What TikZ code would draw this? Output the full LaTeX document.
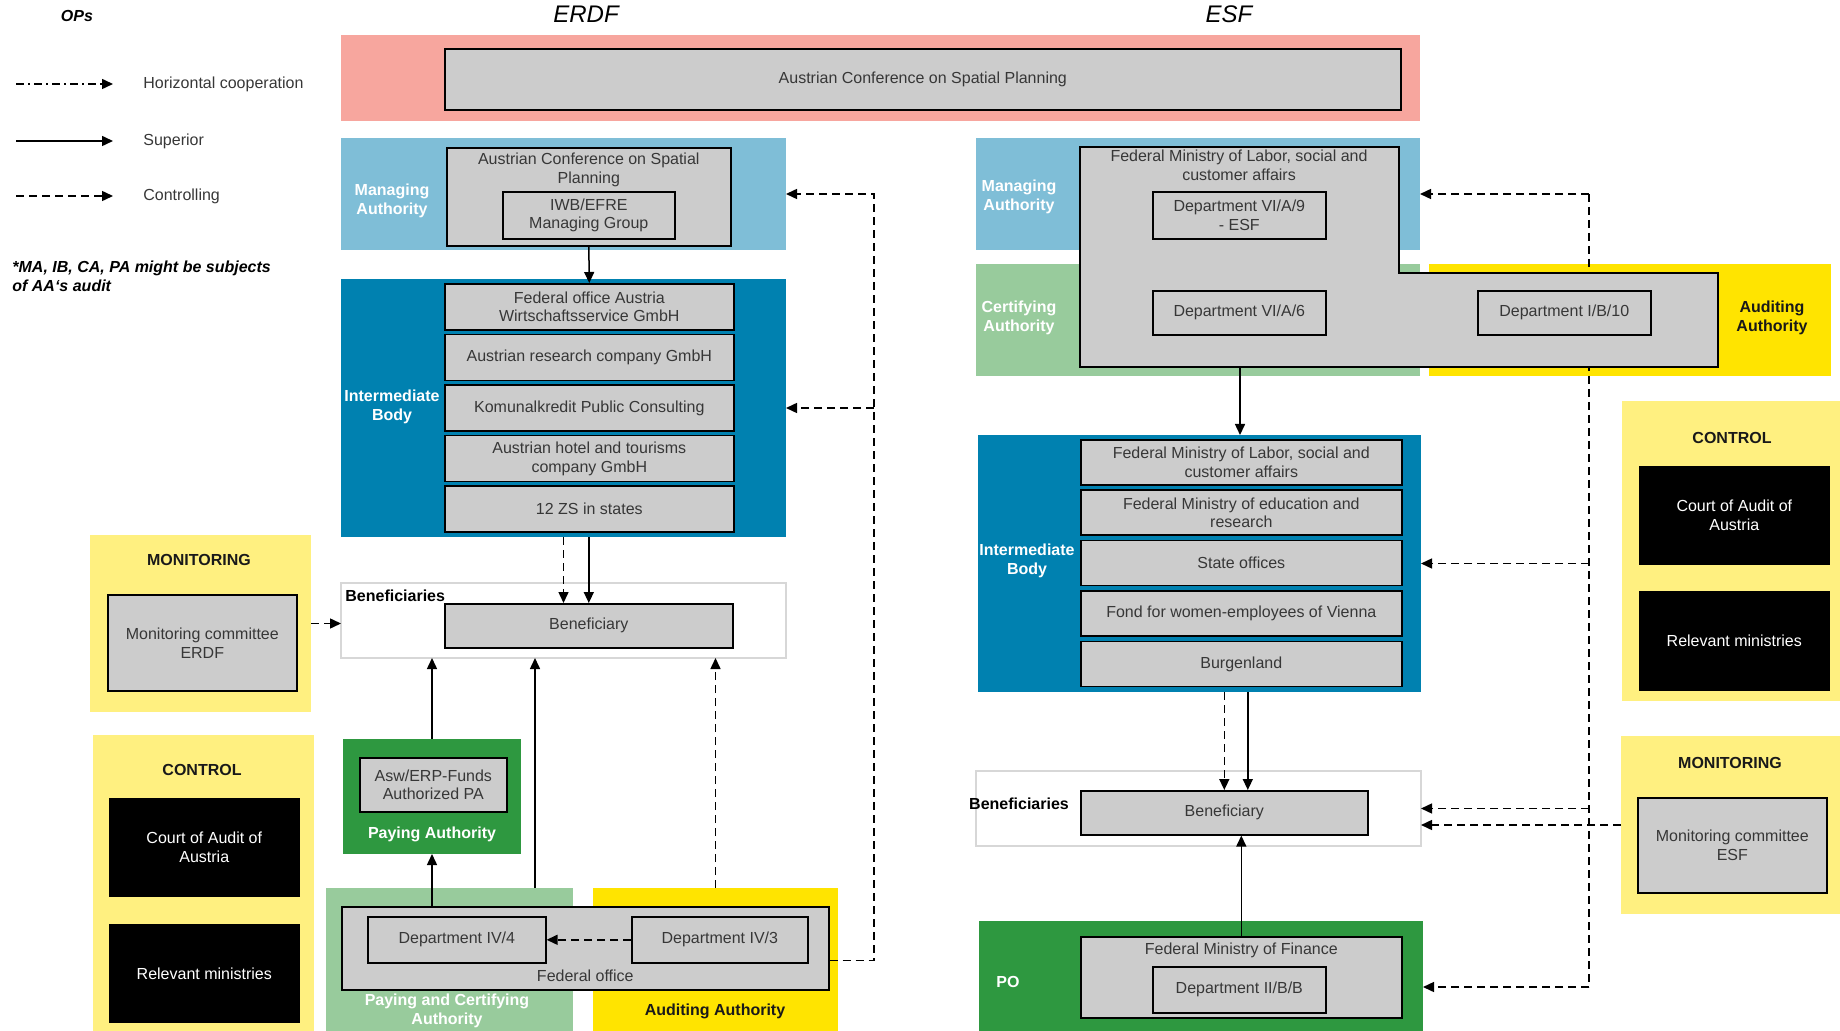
\documentclass[tikz,border=0pt]{standalone}
\usepackage{fontspec}
\setmainfont{Liberation Sans}
\usepackage{xcolor}
\usepackage{tikz}
\usetikzlibrary{arrows.meta,positioning}

\definecolor{spatialpink}{RGB}{247,166,158}
\definecolor{mablue}{RGB}{127,190,215}
\definecolor{ibblue}{RGB}{0,129,176}
\definecolor{pagreen}{RGB}{46,152,64}
\definecolor{pcgreen}{RGB}{152,203,156}
\definecolor{audyellow}{RGB}{255,228,0}
\definecolor{softyellow}{RGB}{255,240,128}
\definecolor{boxgray}{RGB}{204,204,204}
\definecolor{bengray}{RGB}{215,215,215}
\definecolor{txtgray}{RGB}{55,55,55}

\newcommand{\boxfont}{\fontsize{8}{9.4}\selectfont}

\begin{document}
\begin{tikzpicture}[
  x=0.5pt, y=-0.5pt,
  band/.style={rectangle, anchor=north west, inner sep=0pt, outer sep=0pt},
  orgbox/.style={rectangle, draw, line width=0.8pt, fill=boxgray, text=txtgray, font=\boxfont, align=center, anchor=north west, inner sep=1pt},
  darkbox/.style={orgbox, fill=black, text=white},
  boxtext/.style={font=\boxfont, text=txtgray, align=center, inner sep=0pt},
  tag/.style={font=\boxfont\bfseries, text=white, align=center},
  headtag/.style={font=\boxfont\bfseries, text=black!90, align=center},
  legtext/.style={font=\boxfont, text=txtgray, anchor=west, inner sep=0pt},
  ctrlline/.style={line width=0.75pt, dash pattern=on 4pt off 2.5pt},
  sup/.style={-{Triangle[length=5.5pt,width=5pt]}, line width=0.75pt},
  ctrl/.style={sup, ctrlline},
  hcoop/.style={sup, dash pattern=on 4pt off 2pt on 1pt off 2pt},
  ibbox/.style={orgbox, minimum width=144.5pt, minimum height=23pt},
  esibbox/.style={orgbox, minimum width=160.5pt, minimum height=22.5pt},
  node distance=1.5pt
]
\useasboundingbox (0,0) rectangle (1840,1031);

% titles and legend
\node[font=\boxfont\bfseries\itshape] (ops) at (77,16) {OPs};
\node[font=\fontsize{12}{14}\selectfont\itshape] (erdf) at (586,14) {ERDF};
\node[font=\fontsize{12}{14}\selectfont\itshape] (esf) at (1229,14) {ESF};

\node[legtext] (lhoriz) at (143,84) {Horizontal cooperation};
\node[legtext] (lsup) at (143,141) {Superior};
\node[legtext] (lctrl) at (143,196) {Controlling};
\coordinate (lh0) at (16,84);
\coordinate (ls0) at (16,141);
\coordinate (lc0) at (16,196);
\draw[hcoop] (lh0) -- ([xshift=-15pt]lhoriz.west);
\draw[sup] (ls0) -- ([xshift=-15pt]lsup.west);
\draw[ctrl] (lc0) -- ([xshift=-15pt]lctrl.west);
\node[font=\boxfont\bfseries\itshape, anchor=west, align=left, inner sep=0pt] (note) at (12,276) {*MA, IB, CA, PA might be subjects\\of AA‘s audit};

% spatial planning
\node[band, fill=spatialpink, minimum width=539.5pt, minimum height=43pt] (confband) at (341,35) {};
\node[orgbox, minimum width=478pt, minimum height=30.5pt] (confbox) at (444,48) {Austrian Conference on Spatial Planning};

% ERDF
\node[band, fill=mablue, minimum width=222.5pt, minimum height=56pt] (ermaband) at (341,138) {};
\node[tag] (ermatag) at (392,201) {Managing\\Authority};
\node[orgbox, minimum width=142pt, minimum height=49pt] (ermabox) at (446,147) {};
\node[boxtext, below=3pt of ermabox.north] (ermatext) {Austrian Conference on Spatial\\Planning};
\node[orgbox, minimum width=86pt, minimum height=23.5pt] (iwb) at (502,191) {IWB/EFRE\\Managing Group};

\node[band, fill=ibblue, minimum width=222.5pt, minimum height=129pt] (eribband) at (341,279) {};
\node[tag] (eribtag) at (392,407) {Intermediate\\Body};
\node[ibbox] (erib1) at (444,283) {Federal office Austria\\Wirtschaftsservice GmbH};
\node[ibbox, below=of erib1] (erib2) {Austrian research company GmbH};
\node[ibbox, below=of erib2] (erib3) {Komunalkredit Public Consulting};
\node[ibbox, below=of erib3] (erib4) {Austrian hotel and tourisms\\company GmbH};
\node[ibbox, below=of erib4] (erib5) {12 ZS in states};

\node[band, draw=bengray, line width=0.6pt, fill=white, minimum width=222.5pt, minimum height=37.5pt] (erbenband) at (341,583) {};
\node[font=\boxfont\bfseries, anchor=north west, inner sep=0pt] (erbentag) at (345,590) {Beneficiaries};
\node[orgbox, minimum width=144pt, minimum height=22pt] (erben) at (444,603) {Beneficiary};

\node[band, fill=softyellow, minimum width=110.5pt, minimum height=88.5pt] (ermon) at (90,535) {};
\node[headtag] (ermontag) at (199,560) {MONITORING};
\node[orgbox, minimum width=94.5pt, minimum height=48pt] (ermonbox) at (107,594) {Monitoring committee\\ERDF};

\node[band, fill=softyellow, minimum width=110.5pt, minimum height=148pt] (erctl) at (93,735) {};
\node[headtag] (erctltag) at (202,770) {CONTROL};
\node[darkbox, minimum width=94.5pt, minimum height=48.5pt] (ercourt) at (109,798) {Court of Audit of\\Austria};
\node[darkbox, minimum width=94.5pt, minimum height=48.5pt] (erminis) at (109,924) {Relevant ministries};

\node[band, fill=pagreen, minimum width=89pt, minimum height=57.5pt] (erpaband) at (343,739) {};
\node[orgbox, minimum width=73.5pt, minimum height=27pt] (erpabox) at (359,757) {Asw/ERP-Funds\\Authorized PA};
\node[tag] (erpatag) at (432,834) {Paying Authority};

\node[band, fill=pcgreen, minimum width=123.5pt, minimum height=71.5pt] (erpcband) at (326,888) {};
\node[band, fill=audyellow, minimum width=122.5pt, minimum height=71.5pt] (eraaband) at (593,888) {};
\node[orgbox, minimum width=243.5pt, minimum height=41.5pt] (erfed) at (341,906) {};
\node[boxtext, above=4.5pt of erfed.south] (erfedtext) {Federal office};
\node[orgbox, minimum width=89pt, minimum height=23pt] (dep44) at (367,916) {Department IV/4};
\node[orgbox, minimum width=88pt, minimum height=23pt] (dep43) at (631,916) {Department IV/3};
\node[tag] (erpctag) at (447,1011) {Paying and Certifying\\Authority};
\node[headtag] (eraatag) at (715,1011) {Auditing Authority};

% ESF
\node[band, fill=mablue, minimum width=222pt, minimum height=56pt] (esmaband) at (976,138) {};
\node[band, fill=pcgreen, minimum width=222pt, minimum height=56pt] (escaband) at (976,264) {};
\node[band, fill=audyellow, minimum width=201pt, minimum height=56pt] (esaaband) at (1429,264) {};
\node[tag] (esmatag) at (1019,197) {Managing\\Authority};
\node[tag] (escatag) at (1019,318) {Certifying\\Authority};
\node[headtag] (esaatag) at (1772,318) {Auditing\\Authority};

\node[band, fill=ibblue, minimum width=221.5pt, minimum height=128.5pt] (esibband) at (978,435) {};
\node[band, draw=bengray, line width=0.6pt, fill=white, minimum width=222.5pt, minimum height=37.5pt] (esbenband) at (976,771) {};
\node[band, fill=pagreen, minimum width=222pt, minimum height=55pt] (espoband) at (979,921) {};

% controlling line runs under the ministry block
\coordinate (esctlx) at ([xshift=84.5pt]esmaband.east);
\coordinate (espoin) at ([yshift=-5.5pt]espoband.east);
\draw[ctrlline] (esctlx) -- (esctlx |- espoin);

\draw[line width=0.8pt, fill=boxgray] (1080,147) -- (1399,147) -- (1399,273) -- (1718,273) -- (1718,367) -- (1080,367) -- cycle;
\coordinate (eslbot) at (1240,367);
\node[boxtext] (eslabor) at (1239,165) {Federal Ministry of Labor, social and\\customer affairs};
\node[orgbox, minimum width=86.5pt, minimum height=23.5pt] (dep69) at (1152,191) {Department VI/A/9\\- ESF};
\node[orgbox, minimum width=86.5pt, minimum height=22pt] (dep66) at (1152,290) {Department VI/A/6};
\node[orgbox, minimum width=86.5pt, minimum height=22pt] (dep110) at (1477,290) {Department I/B/10};

\node[tag] (esibtag) at (1027,561) {Intermediate\\Body};
\node[esibbox] (esib1) at (1080,439) {Federal Ministry of Labor, social and\\customer affairs};
\node[esibbox, below=1.9pt of esib1] (esib2) {Federal Ministry of education and\\research};
\node[esibbox, below=1.9pt of esib2] (esib3) {State offices};
\node[esibbox, below=1.9pt of esib3] (esib4) {Fond for women-employees of Vienna};
\node[esibbox, below=1.9pt of esib4] (esib5) {Burgenland};

\node[font=\boxfont\bfseries] (esbentag) at (1019,804) {Beneficiaries};
\node[orgbox, minimum width=143.5pt, minimum height=22pt] (esben) at (1080,790) {Beneficiary};

\node[tag] (espotag) at (1008,982) {PO};
\node[orgbox, minimum width=160.5pt, minimum height=40.5pt] (esfin) at (1080,936) {};
\node[boxtext, below=3pt of esfin.north] (esfintext) {Federal Ministry of Finance};
\node[orgbox, minimum width=86.5pt, minimum height=23pt] (dep2bb) at (1152,966) {Department II/B/B};

\node[band, fill=softyellow, minimum width=109pt, minimum height=150pt] (esctl) at (1622,401) {};
\node[headtag] (esctltag) at (1732,438) {CONTROL};
\node[darkbox, minimum width=94.5pt, minimum height=48.5pt] (escourt) at (1639,466) {Court of Audit of\\Austria};
\node[darkbox, minimum width=94.5pt, minimum height=49pt] (esminis) at (1639,591) {Relevant ministries};

\node[band, fill=softyellow, minimum width=109.5pt, minimum height=89pt] (esmon) at (1621,736) {};
\node[headtag] (esmontag) at (1730,763) {MONITORING};
\node[orgbox, minimum width=94.5pt, minimum height=47.5pt] (esmonbox) at (1637,797) {Monitoring committee\\ESF};

% ERDF connectors
\draw[sup] (ermabox.south) -- (erib1.north);
\draw[ctrl] (eribband.south) -- (eribband.south |- erben.north);
\draw[sup] (erben.north |- eribband.south) -- (erben.north);
\draw[sup] (erpaband.north) -- (erpaband.north |- erbenband.south);
\coordinate (erfedup) at ([xshift=42.75pt]erpcband.north);
\draw[sup] (erfedup) -- (erfedup |- erbenband.south);
\draw[ctrl] (eraaband.north) -- (eraaband.north |- erbenband.south);
\draw[sup] (erfed.north -| erpaband.south) -- (erpaband.south);
\draw[ctrl] (dep43.west) -- (dep44.east);
\draw[ctrl] (ermon.east) -- (ermon.east -| erbenband.west);
\draw[ctrl] ([yshift=-6pt]erfed.east) -| ([xshift=44pt]ermaband.east) -- (ermaband.east);
\draw[ctrl] ([xshift=44pt]eribband.east) -- (eribband.east);

% ESF connectors
\draw[sup] (eslbot) -- (eslbot |- esibband.north);
\draw[ctrl] (esben.north |- esibband.south) -- (esben.north);
\coordinate (esibdown) at ([xshift=11.75pt]esben.north);
\draw[sup] (esibdown |- esibband.south) -- (esibdown);
\draw[sup] (esfin.north) -- (esfin.north |- esben.south);
\draw[ctrl] (esctlx) -- (esmaband.east);
\draw[ctrl] (esctlx |- esibband.east) -- (esibband.east);
\draw[ctrl] (esctlx |- esbenband.east) -- (esbenband.east);
\draw[ctrl] (esctlx |- espoin) -- (espoin);
\draw[ctrl] (esmon.west) -- (esmon.west -| esbenband.east);
\end{tikzpicture}
\end{document}
